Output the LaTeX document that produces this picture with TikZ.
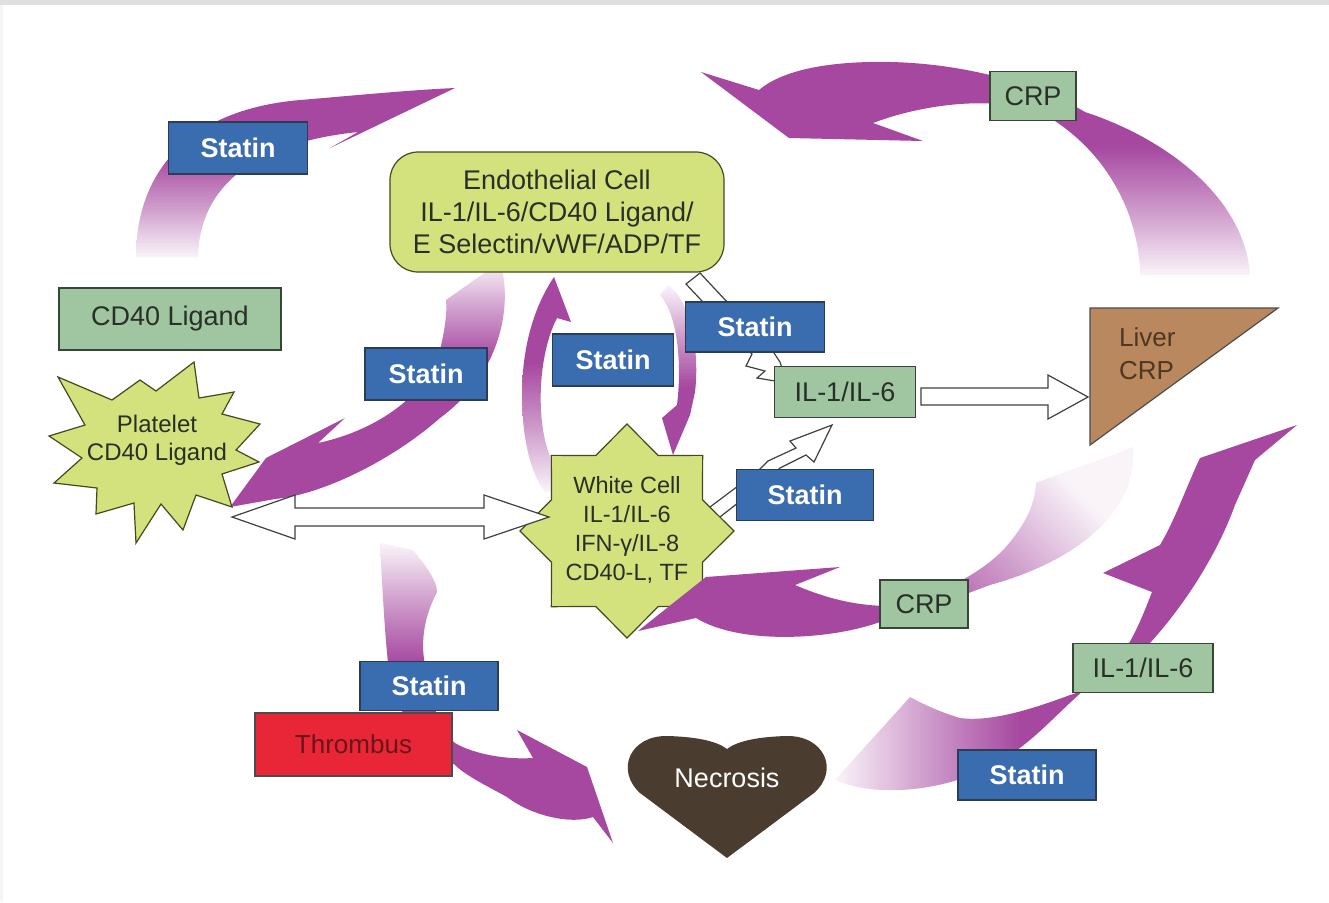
\documentclass[tikz,border=0pt]{standalone}
\usepackage{fontspec}
\setmainfont{Liberation Sans}
\usepackage{tikz}
\usetikzlibrary{shapes.geometric}
\usepackage{xcolor}

\definecolor{arrowmag}{RGB}{166,72,160}
\definecolor{statinblue}{RGB}{58,108,176}
\definecolor{statinedge}{RGB}{45,60,85}
\definecolor{sage}{RGB}{160,197,161}
\definecolor{boxedge}{RGB}{55,70,55}
\definecolor{boxtext}{RGB}{40,48,40}
\definecolor{cellgreen}{RGB}{212,226,125}
\definecolor{celledge}{RGB}{70,72,30}
\definecolor{liverbrown}{RGB}{186,136,94}
\definecolor{livertext}{RGB}{78,55,35}
\definecolor{necrobrown}{RGB}{74,61,47}
\definecolor{thrombred}{RGB}{232,38,56}
\definecolor{thrombtext}{RGB}{105,22,24}

\pgfdeclareverticalshading{magfade}{100bp}{color(0bp)=(arrowmag); color(45bp)=(arrowmag); color(60bp)=(arrowmag!55!white); color(75bp)=(arrowmag!6!white); color(100bp)=(arrowmag!6!white)}
\pgfdeclareverticalshading{magfadeshort}{100bp}{color(0bp)=(arrowmag); color(55bp)=(arrowmag); color(66bp)=(arrowmag!50!white); color(75bp)=(arrowmag!6!white); color(100bp)=(arrowmag!6!white)}

\begin{document}
\begin{tikzpicture}[x=0.5pt, y=-0.5pt
  , statin/.style={draw=statinedge, fill=statinblue, text=white, inner sep=0pt, minimum height=26pt, line width=0.6pt, font=\fontsize{13.5}{16}\selectfont\bfseries}
  , marker/.style={draw=boxedge, fill=sage, text=boxtext, inner sep=0pt, line width=0.6pt, font=\fontsize{13.5}{16}\selectfont}
  , cell/.style={draw=celledge, fill=cellgreen, line width=0.6pt}
  , magarrow/.style={shading=magfade}
  , magarrowshort/.style={shading=magfadeshort}
  , hollow/.style={draw=black!75, fill=white, line width=0.6pt, line join=miter}
]
  \useasboundingbox (0,0) rectangle (1329,902);
  \fill[white] (0,0) rectangle (1329,902);
  \fill[gray!25] (0,0) rectangle (1329,5);
  \fill[gray!8] (0,5) rectangle (3,902);

  % curved arrows
  \shade[magarrow, shading angle=180] (136,257) .. controls (136,175) and (185,110) .. (300,100)
    .. controls (360,95) and (410,90) .. (455,88) -- (330,148) -- (358,132)
    .. controls (280,140) and (200,170) .. (198,257) -- cycle;
  \shade[magarrow, shading angle=180] (1250,275) .. controls (1245,200) and (1170,140) .. (1085,112)
    .. controls (1040,85) and (960,60) .. (870,62)
    .. controls (820,63) and (780,72) .. (759,90) -- (701,72) -- (789,138) -- (923,141) -- (873,123)
    .. controls (920,105) and (990,95) .. (1040,112)
    .. controls (1110,150) and (1140,220) .. (1140,275) -- cycle;
  \shade[magarrowshort, shading angle=0] (500,262) .. controls (512,300) and (505,370) .. (440,418)
    .. controls (390,462) and (320,495) .. (275,499) -- (230,507) -- (266,458) -- (345,418) -- (318,443)
    .. controls (370,432) and (425,400) .. (440,350)
    .. controls (446,325) and (447,310) .. (446,300) -- cycle;
  \shade[magarrow, shading angle=180] (554,277) -- (571,322) -- (557,318)
    .. controls (543,345) and (537,390) .. (543,430)
    .. controls (548,460) and (560,478) .. (568,490) -- (545,492)
    .. controls (528,470) and (522,430) .. (522,395)
    .. controls (522,345) and (535,305) .. (554,277) -- cycle;
  \shade[magarrow, shading angle=0] (668,285) .. controls (690,300) and (700,350) .. (695,392)
    -- (690,415) -- (673,455) -- (662,418) -- (677,405)
    .. controls (682,365) and (678,315) .. (660,295) -- cycle;
  \shade[magarrowshort, shading angle=90] (835,780) .. controls (880,800) and (960,790) .. (1010,755)
    .. controls (1040,735) and (1060,710) .. (1090,685)
    .. controls (1115,665) and (1135,655) .. (1150,643)
    .. controls (1180,610) and (1215,560) .. (1235,505)
    -- (1255,460) -- (1297,425) -- (1200,458)
    .. controls (1185,490) and (1175,520) .. (1160,545) -- (1103,573) -- (1152,592)
    .. controls (1145,610) and (1138,628) .. (1128,645)
    .. controls (1110,670) and (1090,690) .. (1070,695)
    .. controls (1030,710) and (990,722) .. (960,718)
    .. controls (940,712) and (925,705) .. (910,697) -- cycle;
  \shade[magarrowshort, shading angle=0] (380,543) -- (413,550)
    .. controls (425,565) and (437,580) .. (437,592)
    .. controls (425,615) and (420,640) .. (425,665)
    .. controls (430,700) and (440,730) .. (455,743)
    .. controls (470,752) and (500,760) .. (533,758) -- (517,730) -- (587,767) -- (613,843) -- (593,817)
    .. controls (570,825) and (530,815) .. (507,797)
    .. controls (485,785) and (465,775) .. (455,765)
    .. controls (420,740) and (395,710) .. (390,680)
    .. controls (385,640) and (383,600) .. (380,543) -- cycle;

  % hollow arrows
  \draw[hollow] (686,284) -- (700,273) -- (772,350) -- (780,362) -- (787,383) -- (757,378) -- (765,371) -- (746,366) -- (752,354) -- cycle;
  \draw[hollow] (706,510) -- (758,471) -- (768,461) -- (796,448) -- (790,441) -- (832,425) -- (814,462) -- (806,455) -- (780,468) -- (770,478) -- (716,520) -- cycle;

  % cells and organs
  \node[cell, rounded corners=14pt, minimum width=167pt, minimum height=60pt, align=center, text=boxtext, font=\fontsize{13.5}{16}\selectfont] (endo) at (557,212) {Endothelial Cell\\IL-1/IL-6/CD40 Ligand/\\E Selectin/vWF/ADP/TF};
  \draw[cell] (194,362) -- (199,398) -- (234,392) -- (222,414) -- (260,424) -- (236,450) -- (259,462) -- (222,474) -- (232,507) -- (196,495) -- (183,530) -- (161,504) -- (136,543) -- (134,503) -- (96,514) -- (97,488) -- (54,483) -- (82,458) -- (49,436) -- (85,425) -- (58,377) -- (112,400) -- (140,380) -- (156,391) -- cycle;
  \node[cell, star, star points=8, star point ratio=1.31, minimum size=107pt, inner sep=0pt] (wcell) at (627,531) {};
  \fill[necrobrown] (727,858) -- (640,793) .. controls (615,770) and (630,735) .. (668,736)
    .. controls (700,737) and (718,742) .. (727,749) .. controls (736,742) and (754,737) .. (786,736)
    .. controls (824,735) and (840,770) .. (814,793) -- cycle;
  \draw[fill=liverbrown, draw=black!70, line width=0.6pt] (1090,308) -- (1278,308) -- (1090,445) -- cycle;

  \shade[magarrow, shading angle=-45] (1133,447) .. controls (1138,510) and (1080,560) .. (990,585)
    .. controls (950,600) and (910,615) .. (880,622)
    .. controls (830,640) and (740,645) .. (696,618) -- (638,631) -- (706,577) -- (840,567) -- (795,585)
    .. controls (830,600) and (860,606) .. (890,606)
    .. controls (930,600) and (980,575) .. (1005,548)
    .. controls (1025,525) and (1035,505) .. (1036,483)
    .. controls (1070,470) and (1100,460) .. (1133,447) -- cycle;

  \draw[hollow] (232,517) -- (295,495) -- (295,508) -- (484,508) -- (484,495) -- (549,517) -- (484,539) -- (484,526) -- (295,526) -- (295,539) -- cycle;
  \draw[hollow] (921,388) -- (1048,388) -- (1048,375) -- (1088,397) -- (1048,419) -- (1048,405) -- (921,405) -- cycle;

  % labels
  \node[align=center, text=boxtext, font=\fontsize{12}{14}\selectfont] (plt) at (157,440) {Platelet\\CD40 Ligand};
  \node[align=center, text=boxtext, font=\fontsize{11.75}{14.5}\selectfont] (wtxt) at (627,530) {White Cell\\IL-1/IL-6\\IFN-γ/IL-8\\CD40-L, TF};
  \node[text=white, font=\fontsize{13.5}{16}\selectfont] (necro) at (727,778) {Necrosis};
  \node[anchor=west, align=left, text=livertext, font=\fontsize{13}{16.5}\selectfont] (liver) at (1112,354) {Liver\\CRP};

  \node[statin, minimum width=69.5pt] (st1) at (238,148) {Statin};
  \node[marker, minimum width=111pt, minimum height=31pt] (cd40) at (170,319) {CD40 Ligand};
  \node[marker, minimum width=43pt, minimum height=24.5pt] (crptop) at (1033,96) {CRP};
  \node[statin, minimum width=61pt] (st2) at (426,374) {Statin};
  \node[statin, minimum width=60.5pt] (st3) at (613,360) {Statin};
  \node[statin, minimum width=69.5pt, minimum height=25pt] (st4) at (755,327) {Statin};
  \node[marker, minimum width=70.5pt, minimum height=25.5pt] (ilup) at (845,392) {IL-1/IL-6};
  \node[statin, minimum width=68.5pt, minimum height=25.5pt] (st5) at (805,495) {Statin};
  \node[marker, minimum width=44pt, minimum height=24pt] (crplow) at (924,604) {CRP};
  \node[marker, minimum width=70pt, minimum height=24.5pt] (illow) at (1143,668) {IL-1/IL-6};
  \node[statin, minimum width=69pt, minimum height=25pt] (st6) at (1027,775) {Statin};
  \node[statin, minimum width=69pt, minimum height=24.5pt] (st7) at (429,686) {Statin};
  \node[draw=black!70, fill=thrombred, text=thrombtext, inner sep=0pt, line width=0.6pt, minimum width=98.5pt, minimum height=31.5pt, font=\fontsize{13}{16}\selectfont] (throm) at (353.5,744.5) {Thrombus};
\end{tikzpicture}
\end{document}
